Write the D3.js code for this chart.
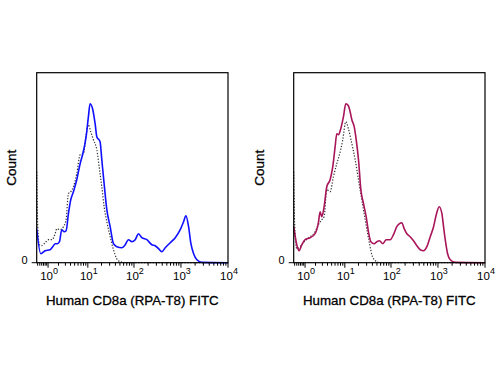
<!DOCTYPE html>
<html>
<head>
<meta charset="utf-8">
<script src="https://cdn.jsdelivr.net/npm/d3@7"></script>
<style>
  body { margin: 0; background: #fff; }
  svg text { font-family: "Liberation Sans", Arial, sans-serif; fill: #000; }
  svg text.title { stroke: #000; stroke-width: 0.3px; }
</style>
</head>
<body>
<div id="chart"></div>
<script>
// CD8a stained (solid) vs isotype control (dotted)
const decades = [0, 1, 2, 3, 4];
const xLabel = "Human CD8a (RPA-T8) FITC";

const leftStained = [
  [0.36, 34], [0.55, 9], [0.80, 12], [1.16, 13], [1.45, 17], [1.62, 19], [1.87, 19],
  [2.12, 21], [2.43, 33], [2.79, 31], [3.13, 32], [3.56, 49], [4.06, 63], [4.69, 71],
  [5.61, 83], [6.7, 99], [7.71, 109], [9.16, 126], [10.3, 146], [11.2, 159], [12.9, 153],
  [14.5, 139], [15.8, 126], [18.6, 121], [20.3, 103], [22.8, 79], [26.1, 53], [30.8, 36],
  [36.3, 19], [42.8, 16], [55, 15], [65, 18], [76, 23], [90, 21], [106, 23], [125, 29],
  [147, 25], [188, 23], [240, 18], [283, 17], [334, 14], [393, 11], [463, 15], [591, 20],
  [756, 25], [966, 33], [1137, 41], [1276, 47], [1452, 36], [1629, 19], [1857, 9],
  [2187, 3], [2798, 0.3], [10000, 0]
];
const leftIsotype = [
  [0.36, 91], [0.405, 36], [0.48, 18], [0.60, 17], [0.80, 20], [1.03, 23], [1.30, 23],
  [1.62, 29], [1.80, 34], [2.20, 33], [2.68, 36], [3.13, 43], [3.56, 69], [4.06, 71],
  [4.69, 76], [5.61, 89], [6.7, 108], [7.97, 109], [9.16, 128], [10.3, 138], [11.6, 131],
  [13.3, 123], [15.8, 113], [18.6, 89], [20.3, 76], [22.8, 56], [26.1, 41], [30.8, 26],
  [36.3, 13], [42.8, 4], [50.5, 1], [70, 0], [10000, 0]
];
const rightStained = [
  [0.36, 36], [0.50, 18], [0.62, 12], [0.78, 18], [1.00, 23], [1.42, 25], [1.95, 29],
  [2.38, 40], [2.63, 51], [2.90, 46], [3.31, 56], [3.84, 76], [4.61, 83], [5.32, 96],
  [6.03, 116], [6.58, 129], [7.18, 128], [8.11, 134], [9.32, 146], [10.5, 159], [12.0, 157],
  [13.1, 151], [14.3, 143], [16.1, 136], [17.8, 123], [20.0, 103], [22.5, 73], [25.7, 59],
  [29.3, 46], [33.4, 29], [37.0, 21], [43.6, 19], [49.7, 21], [56.8, 22], [67, 19], [79, 23],
  [96, 23], [113, 28], [133, 36], [152, 39], [170, 40], [191, 34], [218, 29], [256, 26],
  [302, 22], [356, 17], [419, 13], [494, 12], [581, 16], [685, 26], [807, 36], [920, 48],
  [1064, 56], [1213, 49], [1315, 36], [1429, 23], [1603, 9], [1824, 3], [2333, 0.3], [10000, 0]
];
const rightIsotype = [
  [0.36, 91], [0.405, 36], [0.50, 14], [0.675, 16], [1.00, 22], [1.42, 26], [1.95, 31],
  [2.38, 38], [2.90, 43], [3.31, 46], [3.84, 73], [4.61, 71], [5.51, 86], [6.58, 99],
  [7.57, 108], [9.0, 123], [10.5, 141], [12.0, 134], [14.3, 119], [16.9, 103], [20.0, 83],
  [23.6, 63], [27.9, 43], [33.4, 23], [38.9, 8], [46.3, 2], [58.7, 0], [10000, 0]
];

const panels = [
  { left: 36.7, stained: leftStained, isotype: leftIsotype, color: "#1010ff", countX: 15.5 },
  { left: 293.7, stained: rightStained, isotype: rightIsotype, color: "#a8155a", countX: 264 }
];

const width = 500, height = 375;
const plotW = 191.3, plotH = 190, plotTop = 72.7;

const svg = d3.select("#chart").append("svg")
  .attr("width", width)
  .attr("height", height);

// minor tick values: 2..9 x 10^k, plus the part below 10^0
const minorTicks = [];
for (let k = -1; k < 4; k++) {
  for (let m = 2; m <= 9; m++) {
    const v = m * Math.pow(10, k);
    if (v >= 0.36) minorTicks.push(v);
  }
}

panels.forEach(p => {
  const g = svg.append("g").attr("transform", `translate(${p.left},${plotTop})`);

  const x = d3.scaleSymlog().constant(0.5)
    .domain([0.36, 10000])
    .range([0, plotW]);
  const y = d3.scaleLinear()
    .domain([0, 190])
    .range([plotH, 0]);

  const line = d3.line()
    .x(d => x(d[0]))
    .y(d => y(d[1]))
    .curve(d3.curveMonotoneX);

  g.append("path")
    .datum(p.isotype)
    .attr("fill", "none")
    .attr("stroke", "#333")
    .attr("stroke-width", 1.2)
    .attr("stroke-dasharray", "1.3,1.6")
    .attr("d", line);

  g.append("path")
    .datum(p.stained)
    .attr("fill", "none")
    .attr("stroke", p.color)
    .attr("stroke-width", 1.6)
    .attr("stroke-linejoin", "round")
    .attr("d", line);

  // frame
  g.append("rect")
    .attr("x", 0).attr("y", 0)
    .attr("width", plotW).attr("height", plotH)
    .attr("fill", "none")
    .attr("stroke", "#000")
    .attr("stroke-width", 1.2);

  // x ticks
  const xt = g.append("g").attr("transform", `translate(0,${plotH})`);
  xt.selectAll("line.minor")
    .data(minorTicks)
    .enter().append("line")
    .attr("class", "minor")
    .attr("x1", d => x(d)).attr("x2", d => x(d))
    .attr("y1", 0).attr("y2", 3)
    .attr("stroke", "#000");
  xt.selectAll("line.major")
    .data(decades)
    .enter().append("line")
    .attr("class", "major")
    .attr("x1", d => x(Math.pow(10, d))).attr("x2", d => x(Math.pow(10, d)))
    .attr("y1", 0).attr("y2", 5)
    .attr("stroke", "#000");

  const lbl = xt.selectAll("text.tick")
    .data(decades)
    .enter().append("text")
    .attr("class", "tick")
    .attr("x", d => x(Math.pow(10, d)) + 1)
    .attr("y", 17)
    .attr("text-anchor", "middle")
    .attr("font-size", "11.5px");
  lbl.append("tspan").text("10");
  lbl.append("tspan")
    .attr("dy", -5.5)
    .attr("font-size", "9px")
    .text(d => d);

  // y zero tick
  g.append("line")
    .attr("x1", -5).attr("x2", 0)
    .attr("y1", plotH).attr("y2", plotH)
    .attr("stroke", "#000");
  g.append("text")
    .attr("x", -9)
    .attr("y", plotH + 1)
    .attr("text-anchor", "end")
    .attr("font-size", "11px")
    .text("0");

  // titles
  svg.append("text")
    .attr("class", "title")
    .attr("x", p.left + plotW / 2)
    .attr("y", 305)
    .attr("text-anchor", "middle")
    .attr("font-size", "13.3px")
    .text(xLabel);

  svg.append("text")
    .attr("class", "title")
    .attr("transform", `translate(${p.countX},${plotTop + 95}) rotate(-90)`)
    .attr("text-anchor", "middle")
    .attr("font-size", "13.5px")
    .text("Count");
});
</script>
</body>
</html>
